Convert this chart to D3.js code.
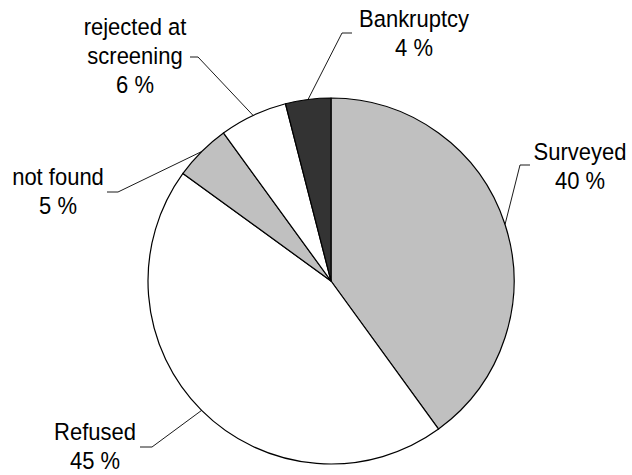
<!DOCTYPE html>
<html>
<head>
<meta charset="utf-8">
<script src="https://cdn.jsdelivr.net/npm/d3@7"></script>
<style>
html,body{margin:0;padding:0;background:#fff;}
svg{display:block;}
text{font-family:"Liberation Sans",Arial,sans-serif;font-size:22px;fill:#000;}
</style>
</head>
<body>
<script>
// Data
const categories = ["Surveyed", "Refused", "not found", "rejected at screening", "Bankruptcy"];
const values = [40, 45, 5, 6, 4];
const labelLines = [["Surveyed"], ["Refused"], ["not found"], ["rejected at", "screening"], ["Bankruptcy"]];
const fills = ["#c0c0c0", "#ffffff", "#c0c0c0", "#ffffff", "#333333"];

// Layout (label block placement and leader elbows), per category
const layout = {
  "Surveyed": {cx: 580, y0: 160, elbow: [520, 165], end: [530, 165]},
  "Refused": {cx: 95, y0: 440, elbow: [152, 447], end: [140, 447]},
  "not found": {cx: 58, y0: 185, elbow: [118, 192], end: [107, 192]},
  "rejected at screening": {cx: 135, y0: 35, elbow: [198, 57], end: [190, 57]},
  "Bankruptcy": {cx: 414, y0: 27, elbow: [342, 33], end: [352, 33]}
};

const W = 632, H = 475;
const cx = 331, cy = 281, R = 183;
const lineH = 29;

const svg = d3.select("body").append("svg").attr("width", W).attr("height", H);

const data = categories.map((c, i) => ({name: c, value: values[i], lines: labelLines[i], fill: fills[i]}));
const pie = d3.pie().value(d => d.value).sort(null);
const arcs = pie(data);
const arc = d3.arc().innerRadius(0).outerRadius(R);

const g = svg.append("g").attr("transform", `translate(${cx},${cy})`);
g.selectAll("path").data(arcs).join("path")
  .attr("d", arc)
  .attr("fill", d => d.data.fill)
  .attr("stroke", "#000")
  .attr("stroke-width", 1.2)
  .attr("stroke-linejoin", "round");

// Leader lines
svg.append("g").selectAll("polyline").data(arcs).join("polyline")
  .attr("fill", "none")
  .attr("stroke", "#000")
  .attr("stroke-width", 0.9)
  .attr("points", d => {
    const mid = (d.startAngle + d.endAngle) / 2;
    const px = cx + R * Math.sin(mid), py = cy - R * Math.cos(mid);
    const L = layout[d.data.name];
    return [[px, py], L.elbow, L.end].map(p => p.join(",")).join(" ");
  });

// Labels
const lab = svg.append("g").selectAll("text").data(arcs).join("text")
  .attr("text-anchor", "middle");
lab.each(function(d) {
  const t = d3.select(this);
  const L = layout[d.data.name];
  const lines = d.data.lines.concat([d.data.value + " %"]);
  t.attr("transform", `translate(${L.cx},${L.y0}) scale(1,1.08)`);
  lines.forEach((s, i) => {
    t.append("tspan").attr("x", 0).attr("y", i * lineH / 1.08).text(s);
  });
});
</script>
</body>
</html>
